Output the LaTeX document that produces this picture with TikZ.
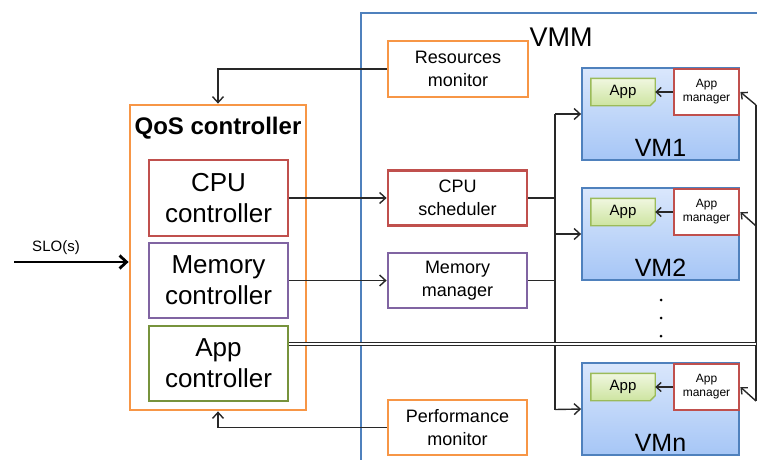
\documentclass[tikz,border=0pt]{standalone}
\usepackage{fontspec}
\setmainfont{Liberation Sans}
\usetikzlibrary{arrows.meta}
\definecolor{cOrange}{RGB}{247,150,70}
\definecolor{cRed}{RGB}{192,80,77}
\definecolor{cPurple}{RGB}{128,100,162}
\definecolor{cGreen}{RGB}{119,147,60}
\definecolor{cBlue}{RGB}{79,129,189}
\definecolor{cLine}{RGB}{40,40,40}
\definecolor{vmTop}{RGB}{218,231,252}
\definecolor{vmBot}{RGB}{166,198,246}
\definecolor{appTop}{RGB}{240,247,224}
\definecolor{appBot}{RGB}{205,228,160}
\definecolor{appBorder}{RGB}{155,187,89}
\newcommand{\fs}[2]{\fontsize{#1}{#2}\selectfont}
\newcommand{\vmgroup}[3]{%
  \node[vmbox] (vm#1) at (660.5,#2+46) {};
  \node[vmlabel] (vml#1) at (660.5,#2+80) {#3};
  \node[minimum width=64pt, minimum height=27pt, inner sep=0pt] (app#1) at (623,#2+24) {};
  \draw[appBorder, line width=1.4pt, top color=appTop, bottom color=appBot]
    (app#1.north west) -- (app#1.north east) -- ([yshift=5pt]app#1.south east)
    -- ([xshift=-5pt]app#1.south east) -- (app#1.south west) -- cycle;
  \node[font=\fs{15}{18}] (appt#1) at (app#1) {App};
  \node[ambox] (am#1) at (706.5,#2+24) {App\\manager};
  \draw[arrs] (am#1.west) -- (app#1.east);
}
\begin{document}
\begin{tikzpicture}[x=1pt,y=-1pt,
  box/.style={draw, line width=2.8pt, fill=white, align=center, inner sep=0pt,
    minimum width=139pt, minimum height=55pt, font=\fs{18}{22.5}},
  ctrl/.style={box, minimum height=75pt, font=\fs{26}{31}},
  conn/.style={draw=cLine, line width=1.4pt},
  arr/.style={conn, -{Straight Barb[length=6pt,width=11pt,line width=1.4pt]}},
  arrs/.style={conn, -{Straight Barb[length=5pt,width=9pt,line width=1.4pt]}},
  vmbox/.style={draw=cBlue, line width=1.8pt, top color=vmTop, bottom color=vmBot,
    minimum width=157pt, minimum height=92pt, inner sep=0pt},
  vmlabel/.style={font=\fs{25}{30}, inner sep=0pt},
  ambox/.style={draw=cRed, line width=2.8pt, fill=white, minimum width=65pt,
    minimum height=46pt, inner sep=0pt, align=center, font=\fs{12}{14}},
  dot/.style={circle, fill=black, inner sep=0pt, minimum size=3pt},
]
\useasboundingbox (0,0) rectangle (757,459);
% VMM container
\draw[cBlue, line width=2.2pt] (361,470) -- (361,13) -- (770,13);
\node[font=\fs{27}{32}, inner sep=0pt] (vmm) at (561,37) {VMM};
% QoS controller
\node[draw=cOrange, line width=2.8pt, fill=white, minimum width=176pt, minimum height=305pt, inner sep=0pt] (qos) at (218,257.5) {};
\node[font=\bfseries\fs{24}{28}, inner sep=0pt] (qost) at (218,128) {QoS controller};
\node[ctrl, draw=cRed, minimum height=76pt] (cpuc) at (218.5,198) {CPU\\controller};
\node[ctrl, draw=cPurple] (memc) at (218.5,280.5) {Memory\\controller};
\node[ctrl, draw=cGreen] (appc) at (218.5,363.5) {App\\controller};
% VMM components
\node[box, draw=cOrange, minimum width=140pt, minimum height=56pt] (res) at (458,69) {Resources\\monitor};
\node[box, draw=cRed] (cpus) at (457.5,198) {CPU\\scheduler};
\node[box, draw=cPurple] (memm) at (457.5,280.5) {Memory\\manager};
\node[box, draw=cOrange] (perf) at (457.5,427.5) {Performance\\monitor};
% VMs
\vmgroup{1}{68}{VM1}
\vmgroup{2}{188}{VM2}
\vmgroup{n}{363}{VMn}
\node[dot] (d1) at (661,300) {};
\node[dot] (d2) at (661,318) {};
\node[dot] (d3) at (661,336) {};
% SLO input
\coordinate (sloS) at (14,262);
\node[font=\fs{15}{18}, inner sep=0pt] (slo) at (56,248) {SLO(s)};
\draw[line width=2.8pt, -{Straight Barb[length=7pt,width=13pt,line width=2.8pt]}] (sloS) -- (qos.west |- sloS);
% monitors to QoS
\draw[arr] (res.west) -| (qos.north);
\draw[arr] (perf.west) -| (qos.south);
% controllers to VMM
\draw[arr] (cpuc.east) -- (cpus.west);
\draw[arr] (memc.east) -- (memm.west);
% bus to VMs
\coordinate (busT) at (555,114);
\coordinate (busB) at (555,409.5);
\draw[conn] (busT) -- (busB);
\draw[conn] (cpus.east) -- (cpus.east -| busT);
\draw[conn] (memm.east) -- (memm.east -| busT);
\draw[arr] (busT) -- (vm1.west);
\draw[arr] (vm2.west -| busT) -- (vm2.west);
\draw[arr] (busB) -- (vmn.west);
% App controller to app managers
\coordinate (r1) at (756,105);
\coordinate (r2) at (756,226);
\coordinate (r3) at (756,401);
\draw[conn] (r1) -- (r3);
\draw[cLine, double, double distance=2pt, line width=1pt] (appc.north east) ++(0,19) coordinate (aout) -- (aout -| r1);
\draw[arrs] (r1) -- (am1.east);
\draw[arrs] (r2) -- (am2.east);
\draw[arrs] (r3) -- (amn.east);
\end{tikzpicture}
\end{document}
